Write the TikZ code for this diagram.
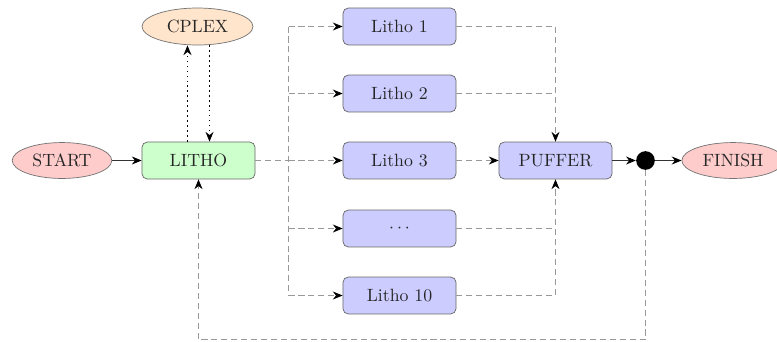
\documentclass[tikz,border=0pt]{standalone}
\usetikzlibrary{arrows.meta,shapes.geometric,calc}
\begin{document}
\begin{tikzpicture}[x=0.5625pt,y=-0.5625pt,
  tip/.style={-{Stealth[length=5.5pt,width=4.5pt,color=black]}},
  flow/.style={tip,black!80,line width=0.5pt},
  dplain/.style={black!40,line width=0.6pt,dash pattern=on 3.4pt off 2.2pt},
  dline/.style={tip,dplain},
  dotline/.style={tip,black,line width=0.8pt,dotted},
  boxnode/.style={rectangle,rounded corners=3pt,draw=black!60,fill=blue!20,minimum width=63.6pt,minimum height=20.8pt,inner sep=0pt,text=black!85},
  ellnode/.style={ellipse,draw=black!55,minimum width=56pt,minimum height=20.2pt,inner sep=0pt,text=black!85}]
\useasboundingbox (0,0) rectangle (777,341);
\node[ellnode,fill=red!20] (start) at (62,160.5) {START};
\node[boxnode,fill=green!20] (litho) at (198.5,160.5) {LITHO};
\node[ellnode,fill=orange!20,minimum width=62.4pt,minimum height=20.8pt] (cplex) at (197.5,26.5) {CPLEX};
\node[boxnode] (l1) at (399.5,26.5) {Litho 1};
\node[boxnode] (l2) at (399.5,93.5) {Litho 2};
\node[boxnode] (l3) at (399.5,160.5) {Litho 3};
\node[boxnode] (ld) at (399.5,228.5) {$\cdots$};
\node[boxnode] (l10) at (399.5,295.5) {Litho 10};
\node[boxnode] (puffer) at (555.5,160.5) {PUFFER};
\node[circle,fill=black,minimum size=10.5pt,inner sep=0pt] (dot) at (645.5,160.5) {};
\node[ellnode,fill=red!20,minimum width=57.5pt] (finish) at (733,160.5) {FINISH};
\coordinate (split) at (288.5,160.5);
\coordinate (fb) at (645.5,339.5);

\draw[flow] (start) -- (litho);
\draw[flow] (puffer) -- (dot);
\draw[flow] (dot) -- (finish);

\draw[dotline] ([xshift=-6.2pt]litho.north) -- ([xshift=-6.2pt]litho.north |- cplex.south);
\draw[dotline] ([xshift=6.2pt]litho.north |- cplex.south) -- ([xshift=6.2pt]litho.north);

\draw[dplain] (split |- l1.west) -- (split |- l10.west);
\draw[dplain] (litho.east) -- (split);
\foreach \n in {l1,l2,l3,ld,l10}{
  \draw[dline] (split |- \n.west) -- (\n.west);
}
\draw[dline] (l1.east) -| (puffer.north);
\draw[dplain] (l2.east) -- (puffer.north |- l2.east);
\draw[dline] (l3.east) -- (puffer.west);
\draw[dplain] (ld.east) -- (puffer.south |- ld.east);
\draw[dline] (l10.east) -| (puffer.south);
\draw[dline] (dot.south) -- (fb) -| (litho.south);
\end{tikzpicture}
\end{document}
